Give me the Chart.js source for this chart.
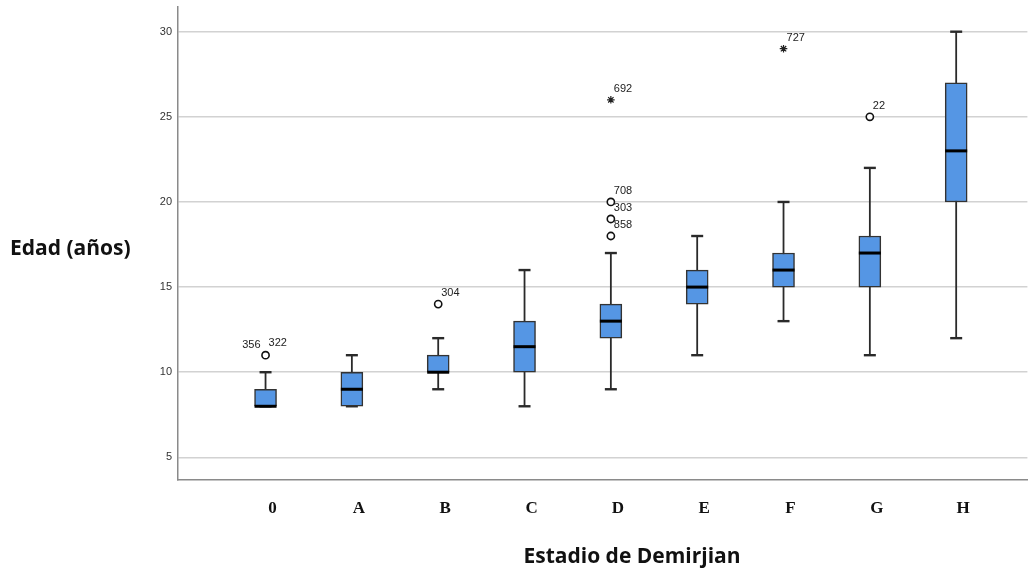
<!DOCTYPE html>
<html>
<head>
<meta charset="utf-8">
<script src="https://cdn.jsdelivr.net/npm/chart.js@4"></script>
<style>
  body { margin: 0; background: #fff; }
  #wrap { width: 1033px; height: 569px; }
</style>
</head>
<body>
<div id="wrap"><canvas id="boxChart" width="1033" height="569"></canvas></div>
<script>
// Datos
const stages = ['0', 'A', 'B', 'C', 'D', 'E', 'F', 'G', 'H'];
const whiskerLow = [8, 8, 9, 8, 9, 11, 13, 11, 12];
const q1 = [8, 8, 10, 10, 12, 14, 15, 15, 20];
const median = [8, 9, 10, 11.5, 13, 15, 16, 17, 23];
const q3 = [9, 10, 11, 13, 14, 16, 17, 18, 27];
const whiskerHigh = [10, 11, 12, 16, 17, 18, 20, 22, 30];

// Atípicos: categoría, valor, tipo (o = círculo, * = extremo) y casos
const outStage = [0, 2, 4, 4, 4, 4, 6, 7];
const outValue = [11, 14, 18, 19, 20, 26, 29, 25];
const outKind = ['o', 'o', 'o', 'o', 'o', '*', '*', 'o'];
const outCases = [['356', '322'], ['304'], ['858'], ['303'], ['708'], ['692'], ['727'], ['22']];

const yTitle = 'Edad (años)';
const xTitle = 'Estadio de Demirjian';

Chart.defaults.font.family = '"Liberation Sans", Arial, sans-serif';

// Bigotes, medianas y etiquetas de casos
const boxExtras = {
  id: 'boxExtras',
  beforeDatasetsDraw(chart) {
    const { ctx, scales: { x, y } } = chart;
    ctx.save();
    ctx.strokeStyle = '#2a2a2a';
    stages.forEach((s, i) => {
      const cx = x.getPixelForValue(i);
      const lo = y.getPixelForValue(whiskerLow[i]);
      const hi = y.getPixelForValue(whiskerHigh[i]);
      ctx.lineWidth = 1.8;
      ctx.beginPath();
      ctx.moveTo(cx, lo);
      ctx.lineTo(cx, hi);
      ctx.stroke();
      ctx.lineWidth = 2.4;
      [lo, hi].forEach(py => {
        ctx.beginPath();
        ctx.moveTo(cx - 6, py);
        ctx.lineTo(cx + 6, py);
        ctx.stroke();
      });
    });
    ctx.restore();
  },
  afterDatasetsDraw(chart) {
    const { ctx, scales: { x, y } } = chart;
    const bars = chart.getDatasetMeta(0).data;
    ctx.save();
    ctx.strokeStyle = '#000';
    ctx.lineWidth = 3;
    stages.forEach((s, i) => {
      const cx = x.getPixelForValue(i);
      const half = bars[i].width / 2;
      const py = y.getPixelForValue(median[i]);
      ctx.beginPath();
      ctx.moveTo(cx - half, py);
      ctx.lineTo(cx + half, py);
      ctx.stroke();
    });

    ctx.font = '11px "Liberation Sans", Arial, sans-serif';
    ctx.fillStyle = '#222';
    ctx.textBaseline = 'alphabetic';
    outStage.forEach((st, k) => {
      const px = x.getPixelForValue(st);
      const py = y.getPixelForValue(outValue[k]);
      const ids = outCases[k];
      if (ids.length === 2) {
        ctx.textAlign = 'right';
        ctx.fillText(ids[0], px - 5, py - 7);
        ctx.textAlign = 'left';
        ctx.fillText(ids[1], px + 3, py - 9);
      } else {
        ctx.textAlign = 'left';
        ctx.fillText(ids[0], px + 3, py - 8);
      }
    });
    ctx.restore();
  },
  afterDraw(chart) {
    const { ctx } = chart;
    ctx.save();
    ctx.fillStyle = '#111';
    ctx.font = 'bold 21px "Open Sans", sans-serif';
    ctx.textBaseline = 'alphabetic';
    ctx.textAlign = 'left';
    ctx.fillText(yTitle, 10, 255);
    ctx.textAlign = 'center';
    ctx.fillText(xTitle, 632, 563);
    ctx.restore();
  }
};

const circles = [];
const stars = [];
outStage.forEach((st, k) => {
  const pt = { x: st, y: outValue[k] };
  if (outKind[k] === '*') stars.push(pt); else circles.push(pt);
});

const ctx = document.getElementById('boxChart').getContext('2d');
const myChart = new Chart(ctx, {
  type: 'bar',
  data: {
    datasets: [
      {
        label: 'Caja',
        data: stages.map((s, i) => ({ x: i, y: [q1[i], q3[i]] })),
        backgroundColor: '#5596e4',
        borderColor: '#333',
        borderWidth: 1.5,
        borderSkipped: false,
        barThickness: 22
      },
      {
        type: 'scatter',
        label: 'Atípicos',
        data: circles,
        pointStyle: 'circle',
        pointRadius: 3.6,
        backgroundColor: '#fff',
        borderColor: '#111',
        borderWidth: 1.6
      },
      {
        type: 'scatter',
        label: 'Extremos',
        data: stars,
        pointStyle: 'star',
        pointRadius: 3.8,
        backgroundColor: '#111',
        borderColor: '#222',
        borderWidth: 1.2
      }
    ]
  },
  options: {
    responsive: false,
    animation: false,
    layout: { padding: { top: 7, right: 0, left: 0, bottom: 0 } },
    plugins: {
      legend: { display: false },
      tooltip: { enabled: false }
    },
    scales: {
      x: {
        type: 'linear',
        offset: false,
        min: -1.014,
        max: 8.825,
        afterFit: (scale) => {
          scale.height = 89;
          scale.paddingLeft = 0;
          scale.paddingRight = 0;
        },
        grid: { display: false, drawTicks: false, offset: false },
        border: { display: true, color: '#8a8a8a', width: 1.5 },
        ticks: {
          stepSize: 1,
          includeBounds: false,
          autoSkip: false,
          maxRotation: 0,
          padding: 18,
          labelOffset: 7,
          color: '#111',
          font: { family: '"Liberation Serif", "Times New Roman", serif', weight: 'bold', size: 17 },
          callback: (v) => stages[v] ?? ''
        }
      },
      y: {
        min: 3.67,
        max: 31.45,
        afterFit: (scale) => {
          scale.width = 178;
          scale.paddingTop = 0;
          scale.paddingBottom = 0;
        },
        grid: { color: '#d2d2d2', lineWidth: 1.6, drawTicks: false },
        border: { display: true, color: '#8a8a8a', width: 1.5 },
        ticks: {
          stepSize: 5,
          includeBounds: false,
          padding: 6,
          color: '#333',
          font: { size: 11 }
        }
      }
    }
  },
  plugins: [boxExtras]
});
</script>
</body>
</html>
